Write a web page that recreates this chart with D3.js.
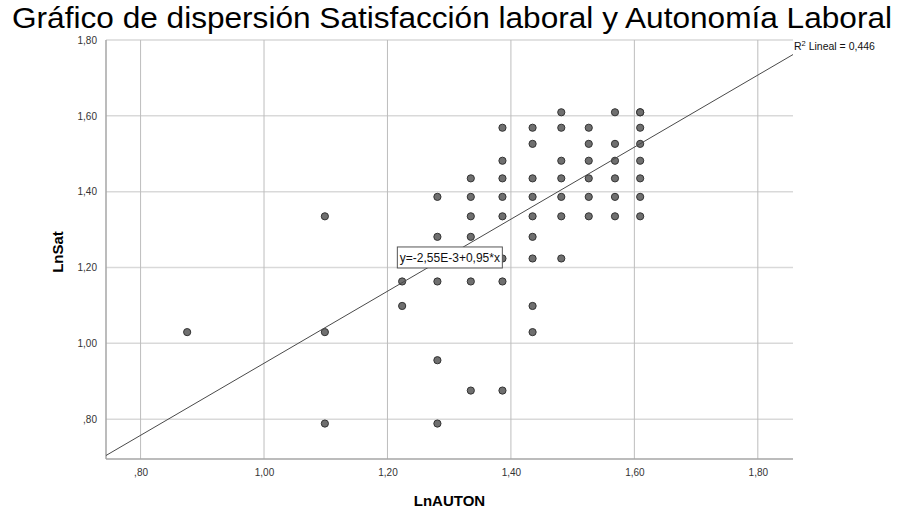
<!DOCTYPE html>
<html>
<head>
<meta charset="utf-8">
<script src="https://cdn.jsdelivr.net/npm/d3@7"></script>
<style>
  body { margin: 0; background: #fff; }
  text { font-family: Arial, "Liberation Sans", sans-serif; }
</style>
</head>
<body>
<svg id="canvas" width="907" height="510"></svg>
<script>
// LnAUTON / LnSat pairs (one entry per visible dot)
let lnAuton = [
  0.8755,
  1.0986, 1.0986, 1.0986,
  1.2238, 1.2238,
  1.2809, 1.2809, 1.2809, 1.2809, 1.2809,
  1.3350, 1.3350, 1.3350, 1.3350, 1.3350, 1.3350,
  1.3863, 1.3863, 1.3863, 1.3863, 1.3863, 1.3863, 1.3863, 1.3863,
  1.4351, 1.4351, 1.4351, 1.4351, 1.4351, 1.4351, 1.4351, 1.4351, 1.4351,
  1.4816, 1.4816, 1.4816, 1.4816, 1.4816, 1.4816, 1.4816,
  1.5261, 1.5261, 1.5261, 1.5261, 1.5261, 1.5261,
  1.5686, 1.5686, 1.5686, 1.5686, 1.5686, 1.5686,
  1.6094, 1.6094, 1.6094, 1.6094, 1.6094, 1.6094, 1.6094, 1.6094
];
let lnSat = [
  1.0296,
  1.3350, 1.0296, 0.7885,
  1.1632, 1.0986,
  1.3863, 1.2809, 1.1632, 0.9555, 0.7885,
  1.4351, 1.3863, 1.3350, 1.2809, 1.1632, 0.8755,
  1.5686, 1.4816, 1.4351, 1.3863, 1.3350, 1.2238, 1.1632, 0.8755,
  1.5686, 1.5261, 1.4351, 1.3863, 1.3350, 1.2809, 1.2238, 1.0986, 1.0296,
  1.6094, 1.5686, 1.4816, 1.4351, 1.3863, 1.3350, 1.2238,
  1.5686, 1.5261, 1.4816, 1.4351, 1.3863, 1.3350,
  1.6094, 1.5261, 1.4816, 1.4351, 1.3863, 1.3350,
  1.6094, 1.5686, 1.5261, 1.4816, 1.4351, 1.3863, 1.3350, 1.6094
];

let xTicks = [0.8, 1.0, 1.2, 1.4, 1.6, 1.8];
let yTicks = [0.8, 1.0, 1.2, 1.4, 1.6, 1.8];

// fit line as printed on the chart
let intercept = -0.00255;
let slope = 0.95;
let rSquared = 0.446;
let fitLabelAt = [1.216, 1.2265];

let svg = d3.select("#canvas");
let plotLeft = 106, plotRight = 793, plotTop = 40, plotBottom = 459;

let xScale = d3.scaleLinear().domain([0.744, 1.857]).range([plotLeft, plotRight]);
let yScale = d3.scaleLinear().domain([0.695, 1.80]).range([plotBottom, plotTop]);

// SPSS style numbers: ",80" "1,00"
let spssFormat = (d) => d3.format(".2f")(d).replace(".", ",").replace(/^0/, "");

// title
svg.append("text")
  .attr("x", 12)
  .attr("y", 28)
  .attr("font-size", 29)
  .attr("textLength", 880)
  .attr("lengthAdjust", "spacingAndGlyphs")
  .attr("fill", "#000")
  .text("Gráfico de dispersión Satisfacción laboral y Autonomía Laboral");

// grid
svg.append("g")
  .selectAll("line")
  .data(yTicks)
  .enter()
  .append("line")
  .attr("x1", plotLeft)
  .attr("x2", plotRight)
  .attr("y1", (d) => yScale(d))
  .attr("y2", (d) => yScale(d))
  .attr("stroke", "#d9d9d9")
  .attr("stroke-width", 1.5);

svg.append("g")
  .selectAll("line")
  .data(xTicks)
  .enter()
  .append("line")
  .attr("x1", (d) => xScale(d))
  .attr("x2", (d) => xScale(d))
  .attr("y1", plotTop)
  .attr("y2", plotBottom)
  .attr("stroke", "#bdbdbd")
  .attr("stroke-width", 1);

// axes
let xAxis = svg.append("g")
  .attr("transform", "translate(0," + plotBottom + ")")
  .call(d3.axisBottom(xScale).tickValues(xTicks).tickFormat(spssFormat).tickSize(0).tickPadding(10));
let yAxis = svg.append("g")
  .attr("transform", "translate(" + plotLeft + ",0)")
  .call(d3.axisLeft(yScale).tickValues(yTicks).tickFormat(spssFormat).tickSize(0).tickPadding(9));

[xAxis, yAxis].forEach((ax) => {
  ax.select(".domain").remove();
  ax.selectAll("text")
    .attr("font-family", "Arial, 'Liberation Sans', sans-serif")
    .attr("font-size", 10)
    .attr("fill", "#333");
});

svg.append("line")
  .attr("x1", plotLeft).attr("x2", plotRight)
  .attr("y1", plotBottom).attr("y2", plotBottom)
  .attr("stroke", "#a6a6a6").attr("stroke-width", 1.5);
svg.append("line")
  .attr("x1", plotLeft).attr("x2", plotLeft)
  .attr("y1", plotTop).attr("y2", plotBottom)
  .attr("stroke", "#a6a6a6").attr("stroke-width", 1.5);

// axis titles
svg.append("text")
  .attr("x", (plotLeft + plotRight) / 2)
  .attr("y", 506)
  .attr("text-anchor", "middle")
  .attr("font-size", 15)
  .attr("font-weight", "bold")
  .text("LnAUTON");

svg.append("text")
  .attr("transform", "translate(63,252) rotate(-90)")
  .attr("text-anchor", "middle")
  .attr("font-size", 15)
  .attr("font-weight", "bold")
  .text("LnSat");

// points
svg.append("g")
  .selectAll("circle")
  .data(lnAuton)
  .enter()
  .append("circle")
  .attr("cx", (d) => xScale(d))
  .attr("cy", (d, i) => yScale(lnSat[i]))
  .attr("r", 3.6)
  .attr("fill", "#6f6f6f")
  .attr("stroke", "#333")
  .attr("stroke-width", 1);

// fit line, clipped to the plot
svg.append("clipPath")
  .attr("id", "plotClip")
  .append("rect")
  .attr("x", plotLeft).attr("y", plotTop)
  .attr("width", plotRight - plotLeft).attr("height", plotBottom - plotTop);

let xDom = xScale.domain();
svg.append("line")
  .attr("clip-path", "url(#plotClip)")
  .attr("x1", xScale(xDom[0]))
  .attr("y1", yScale(intercept + slope * xDom[0]))
  .attr("x2", xScale(xDom[1]))
  .attr("y2", yScale(intercept + slope * xDom[1]))
  .attr("stroke", "#4a4a4a")
  .attr("stroke-width", 1);

// equation box
let eq = "y=-2,55E-3+0,95*x";
let bx = xScale(fitLabelAt[0]);
let by = yScale(fitLabelAt[1]);
let box = svg.append("g").attr("transform", "translate(" + bx + "," + by + ")");
box.append("rect")
  .attr("x", 0).attr("y", -10.5)
  .attr("width", 105).attr("height", 21)
  .attr("fill", "#fff")
  .attr("stroke", "#555")
  .attr("stroke-width", 1);
box.append("text")
  .attr("x", 2.5).attr("y", 4.5)
  .attr("font-size", 12)
  .attr("fill", "#111")
  .text(eq);

// R squared note
let r2 = svg.append("text")
  .attr("x", plotRight + 1)
  .attr("y", 50)
  .attr("font-size", 10.5)
  .attr("fill", "#111");
r2.append("tspan").text("R");
r2.append("tspan").attr("font-size", 7.5).attr("dy", -4).text("2");
r2.append("tspan").attr("dy", 4).text(" Lineal = " + d3.format(".3f")(rSquared).replace(".", ","));
</script>
</body>
</html>
